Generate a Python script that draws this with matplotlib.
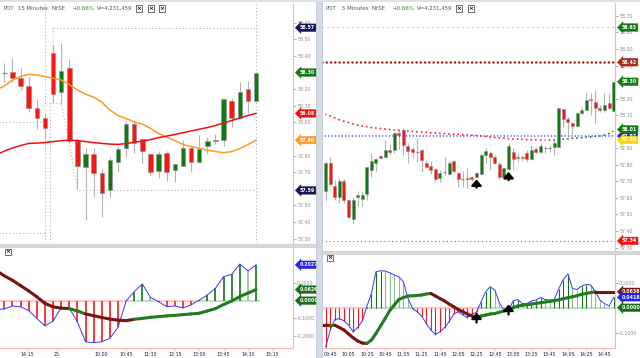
import numpy as np
import matplotlib
matplotlib.use("Agg")
import matplotlib.pyplot as plt
from matplotlib.patches import Rectangle

plt.rcParams['font.family'] = ['DejaVu Sans']

#---------------------------------------------------------------------------------------------
# Data, left chart (15 minutes), bars 0..31
l_open  = [58.30, 58.305, 58.27, 58.22, 58.084, 58.024, 58.42, 58.18, 58.325, 57.893, 57.733, 57.807, 57.697, 57.592,
           57.763, 57.843, 57.988, 57.898, 57.807, 57.707, 57.817, 57.713, 57.737, 57.843, 57.763, 57.857, 57.887,
           57.893, 58.128, 58.028, 58.199, 58.128]
l_high  = [58.355, 58.39, 58.325, 58.275, 58.138, 58.056, 58.466, 58.48, 58.38, 57.905, 57.845, 57.845, 57.717, 57.79,
           57.857, 58.008, 58.01, 57.905, 57.815, 57.825, 57.825, 57.72, 57.895, 57.85, 57.925, 57.91, 57.93,
           58.138, 58.145, 58.245, 58.25, 58.30]
l_low   = [58.245, 58.245, 58.195, 58.064, 57.958, 57.898, 58.116, 58.11, 57.875, 57.60, 57.41, 57.55, 57.43, 57.55,
           57.70, 57.793, 57.817, 57.757, 57.683, 57.663, 57.648, 57.642, 57.737, 57.703, 57.80, 57.807, 57.87,
           57.857, 57.973, 58.02, 58.054, 58.128]
l_close = [58.297, 58.27, 58.22, 58.086, 58.024, 57.964, 58.17, 58.31, 57.89, 57.734, 57.807, 57.693, 57.576, 57.773,
           57.837, 57.988, 57.873, 57.829, 57.703, 57.807, 57.703, 57.747, 57.843, 57.763, 57.837, 57.887, 57.895,
           58.138, 58.028, 58.184, 58.128, 58.30]

# moving averages and indicator, bars -1..31
l_ma_orange = [58.195, 58.219, 58.255, 58.276, 58.289, 58.285, 58.276, 58.265, 58.255, 58.228, 58.195, 58.170, 58.152,
               58.122, 58.074, 58.041, 58.023, 58.002, 57.990, 57.964, 57.933, 57.911, 57.890, 57.867, 57.854, 57.843,
               57.833, 57.824, 57.817, 57.824, 57.842, 57.866, 57.893]
l_ma_red = [57.803, 57.827, 57.845, 57.860, 57.873, 57.875, 57.878, 57.884, 57.889, 57.893, 57.890, 57.884, 57.878,
            57.873, 57.869, 57.867, 57.872, 57.880, 57.887, 57.896, 57.908, 57.917, 57.927, 57.937, 57.948, 57.958,
            57.969, 57.981, 57.996, 58.011, 58.026, 58.041, 58.054]
l_hist = [-0.05, -0.047, -0.030, -0.034, -0.056, -0.100, -0.143, -0.115, -0.040, -0.043, -0.119, -0.232, -0.237,
          -0.232, -0.213, -0.150, -0.002, 0.051, 0.094, 0.019, -0.006, -0.034, -0.030, -0.041, -0.024, 0.003, 0.032,
          0.070, 0.136, 0.149, 0.207, 0.168, 0.2027]
l_signal = [0.17, 0.14, 0.115, 0.085, 0.055, 0.022, -0.015, -0.035, -0.042, -0.045, -0.058, -0.075, -0.085, -0.095,
            -0.104, -0.110, -0.113, -0.105, -0.100, -0.094, -0.090, -0.086, -0.083, -0.079, -0.075, -0.071, -0.058,
            -0.045, -0.022, -0.002, 0.023, 0.043, 0.0626]
l_signal_up = [False] * 9 + [True, True] + [False] * 6 + [True] * 16   # segment ending at each bar

# dotted day levels
l_day_hi_x, l_day_hi_y = [6, 31], [58.57, 58.57]
l_day_lo_x, l_day_lo_y = [6, 6, 7, 8, 9, 31], [58.57, 58.116, 58.11, 57.875, 57.59, 57.59]
l_prev_levels = [58.00, 57.335]

l_price_ticks = [57.3, 57.4, 57.5, 57.7, 57.8, 58.0, 58.1, 58.2, 58.4, 58.5, 58.6]
l_ind_ticks = [-0.2, -0.1, 0.1]
l_times = ['14:15', '25', '10:00', '10:45', '11:30', '12:15', '13:00', '13:45', '14:30', '15:15']
l_time_pos = [2.8, 6.5, 12, 15, 18, 21, 24, 27, 30, 33]

#---------------------------------------------------------------------------------------------
# Data, right chart (5 minutes), bars 0..63
r_ohlc = [
    (57.643, 57.815, 57.587, 57.813), (57.813, 57.849, 57.672, 57.684), (57.672, 57.708, 57.587, 57.604),
    (57.604, 57.718, 57.567, 57.704), (57.704, 57.712, 57.567, 57.587), (57.587, 57.595, 57.477, 57.486),
    (57.471, 57.607, 57.45, 57.587), (57.607, 57.643, 57.551, 57.617), (57.595, 57.64, 57.55, 57.62),
    (57.624, 57.789, 57.587, 57.785), (57.769, 57.873, 57.724, 57.823), (57.813, 57.84, 57.758, 57.833),
    (57.853, 57.859, 57.833, 57.843), (57.849, 57.95, 57.849, 57.889), (57.889, 57.926, 57.859, 57.879),
    (57.889, 58.00, 57.873, 57.994), (57.994, 58.014, 57.894, 57.98), (58.01, 58.02, 57.859, 57.92),
    (57.914, 57.934, 57.809, 57.883), (57.893, 57.909, 57.839, 57.879), (57.875, 57.96, 57.819, 57.875),
    (57.889, 57.894, 57.758, 57.829), (57.813, 57.829, 57.779, 57.785), (57.793, 57.825, 57.744, 57.769),
    (57.773, 57.779, 57.698, 57.712), (57.722, 57.769, 57.698, 57.752), (57.756, 57.845, 57.738, 57.756),
    (57.744, 57.82, 57.74, 57.813), (57.823, 57.83, 57.749, 57.763), (57.752, 57.758, 57.664, 57.712),
    (57.713, 57.76, 57.665, 57.713), (57.722, 57.78, 57.66, 57.714), (57.724, 57.735, 57.70, 57.714),
    (57.728, 57.758, 57.724, 57.749), (57.744, 57.869, 57.738, 57.859), (57.859, 57.90, 57.809, 57.885),
    (57.869, 57.885, 57.769, 57.849), (57.849, 57.859, 57.805, 57.813), (57.805, 57.819, 57.712, 57.724),
    (57.724, 57.789, 57.718, 57.779), (57.773, 57.934, 57.769, 57.913), (57.879, 57.90, 57.769, 57.833),
    (57.849, 57.869, 57.819, 57.839), (57.839, 57.86, 57.82, 57.849), (57.873, 57.889, 57.819, 57.833),
    (57.833, 57.92, 57.829, 57.889), (57.894, 57.906, 57.869, 57.879), (57.879, 57.93, 57.869, 57.914),
    (57.90, 57.914, 57.869, 57.90), (57.903, 57.92, 57.875, 57.903), (57.906, 57.95, 57.859, 57.93),
    (57.906, 58.141, 57.906, 58.141), (58.135, 58.135, 58.03, 58.075), (58.075, 58.087, 57.986, 58.06),
    (58.05, 58.06, 57.986, 58.034), (58.034, 58.121, 58.03, 58.115), (58.111, 58.151, 58.10, 58.131),
    (58.131, 58.242, 58.131, 58.191), (58.20, 58.236, 58.10, 58.19), (58.181, 58.252, 58.051, 58.141),
    (58.141, 58.161, 58.121, 58.131), (58.131, 58.232, 58.121, 58.161), (58.171, 58.232, 58.135, 58.141),
    (58.127, 58.302, 58.127, 58.302)]
r_ma = [58.104, 58.095, 58.083, 58.072, 58.063, 58.056, 58.047, 58.040, 58.034, 58.030,
        58.025, 58.022, 58.019, 58.016, 58.013, 58.011, 58.008, 58.006, 58.004, 58.002,
        57.999, 57.998, 57.996, 57.993, 57.991, 57.990, 57.989, 57.987, 57.986, 57.984,
        57.982, 57.981, 57.979, 57.977, 57.974, 57.971, 57.968, 57.965, 57.963, 57.961,
        57.958, 57.956, 57.955, 57.954, 57.952, 57.951, 57.950, 57.949, 57.949, 57.949,
        57.950, 57.952, 57.955, 57.957, 57.960, 57.962, 57.964, 57.967, 57.969, 57.972,
        57.974, 57.980, 57.989, 58.004]
r_hist = [-0.156, -0.089, -0.047, -0.044, -0.052, -0.069, -0.096, -0.079, -0.053, 0.005,
          0.057, 0.144, 0.148, 0.147, 0.140, 0.131, 0.124, 0.104, 0.037, -0.003,
          -0.016, -0.033, -0.063, -0.089, -0.107, -0.096, -0.079, -0.056, -0.025, -0.016,
          -0.029, -0.039, -0.025, -0.018, 0.024, 0.064, 0.084, 0.071, 0.020, -0.009,
          -0.012, 0.028, 0.033, 0.017, 0.017, 0.027, 0.031, 0.041, 0.033, 0.031,
          0.033, 0.077, 0.113, 0.135, 0.077, 0.073, 0.087, 0.093, 0.091, 0.064,
          0.031, 0.017, 0.007, 0.042]
# bars -1..63
r_signal = [-0.069, -0.069, -0.072, -0.070, -0.079, -0.089, -0.105, -0.120, -0.133, -0.141, -0.143, -0.129, -0.103,
            -0.073, -0.043, -0.012, 0.011, 0.033, 0.041, 0.047, 0.048, 0.049, 0.051, 0.055, 0.057, 0.047, 0.037,
            0.027, 0.015, 0.004, -0.007, -0.016, -0.025, -0.033, -0.039, -0.033, -0.029, -0.025, -0.023, -0.018,
            -0.013, -0.007, 0.000, 0.007, 0.010, 0.012, 0.015, 0.017, 0.020, 0.023, 0.025, 0.028, 0.032, 0.036,
            0.040, 0.044, 0.048, 0.054, 0.057, 0.061, 0.0636, 0.0636, 0.0636, 0.0636, 0.0636]
r_arrow_bars = [33, 40]
r_levels = {'gray': 58.63, 'darkred': 58.42, 'blue': 57.974, 'red': 57.34}

r_price_ticks = [57.3, 57.4, 57.5, 57.6, 57.7, 57.8, 57.9, 58.1, 58.2, 58.4, 58.5, 58.6, 58.7]
r_ind_ticks = [-0.1, 0.1]
r_times = ['09:45', '10:05', '10:25', '10:45', '11:05', '11:25', '11:45', '12:05', '12:25', '12:45', '13:05',
           '13:25', '13:45', '14:05', '14:25', '14:45']
r_time_pos = list(range(1, 62, 4))

#---------------------------------------------------------------------------------------------
GREEN = '#137a13'
RED = '#ff1414'
SIG_UP = '#1f7d1f'
SIG_DN = '#7a1212'
W, H = 640, 358

fig = plt.figure(figsize=(6.4, 3.58), dpi=100)
fig.patch.set_facecolor('white')


def add_ax(x0, y0, x1, y1):
    ax = fig.add_axes([x0 / W, 1 - y1 / H, (x1 - x0) / W, (y1 - y0) / H])
    for s in ['top', 'left', 'bottom']:
        ax.spines[s].set_visible(False)
    ax.spines['right'].set_color('#ffb4b4')
    ax.spines['right'].set_linewidth(0.8)
    ax.yaxis.tick_right()
    ax.tick_params(axis='y', labelsize=3.4, colors='#8c8c8c', length=2, width=0.5, pad=1)
    ax.tick_params(axis='x', bottom=False, labelbottom=False)
    return ax


def candles(ax, o, h, l, c, width):
    for k in range(len(o)):
        ax.vlines(k, l[k], h[k], color='#b4b4b4', lw=0.8, zorder=2)
        if abs(c[k] - o[k]) < 0.004:
            ax.hlines(o[k], k - width / 2, k + width / 2, color='#8a8a8a', lw=0.9, zorder=3)
        else:
            ax.add_patch(Rectangle((k - width / 2, min(o[k], c[k])), width, abs(c[k] - o[k]),
                                   fc=GREEN if c[k] > o[k] else RED, ec='#8c8c8c', lw=0.4, zorder=3))


def histogram(ax, v, lw):
    x = np.arange(len(v))
    cols, zcols = [], []
    for k in range(len(v)):
        if v[k] < 0:
            cols.append(RED)
            zcols.append('#ffc4c4')
        else:
            cols.append('#157215' if k == 0 or v[k] >= v[k - 1] else '#8fbf8f')
            zcols.append('#c4e2c4')
    ax.hlines(np.zeros(len(v)), x - 0.5, x + 0.5, colors=zcols, lw=1.6, zorder=1)
    ax.vlines(x, 0, v, colors=cols, lw=lw, zorder=2)
    ax.plot(x, v, color='#3838ff', lw=0.7, zorder=3)


def signal(ax, x, v, up):
    for k in range(1, len(x)):
        ax.plot(x[k - 1:k + 1], v[k - 1:k + 1], color=SIG_UP if up[k] else SIG_DN, lw=2.2,
                solid_capstyle='round', zorder=4)


def tag(ax, y, text, fc, tc='white'):
    ax.text(1.022, y, text, transform=ax.get_yaxis_transform(), ha='left', va='center', fontsize=3.4,
            color=tc, fontweight='bold', bbox=dict(boxstyle='larrow,pad=0.28', fc=fc, ec=fc, lw=0.3),
            clip_on=False, zorder=6)


def header(x, items, boxes):
    for dx, txt, col in items:
        fig.text((x + dx) / W, 1 - 8.5 / H, txt, fontsize=3.9, color=col, va='center', ha='left')
    for bx in boxes:
        fig.text(bx / W, 1 - 8.5 / H, '×', fontsize=4.2, color='black', va='center', ha='center',
                 fontweight='bold', bbox=dict(boxstyle='square,pad=0.15', fc='white', ec='#303030', lw=0.5))


def xbox(x, y):
    fig.text(x / W, 1 - y / H, '×', fontsize=4.2, color='black', va='center', ha='center', fontweight='bold',
             bbox=dict(boxstyle='square,pad=0.15', fc='white', ec='#303030', lw=0.5))


dot = (0, (1, 2.5))

#---------------------------------------------------------------------------------------------
# Left price
axL = add_ax(0, 3, 293, 243)
axL.set_xlim(-0.53, 35.55)
axL.set_ylim(57.273, 58.719)
axL.set_yticks(l_price_ticks)
axL.yaxis.set_major_formatter(plt.FormatStrFormatter('%.2f'))
xl = np.arange(-1, 32)
axL.plot(xl, l_ma_orange, color='#ff9a22', lw=1.1, zorder=4)
axL.plot(xl, l_ma_red, color='#f01010', lw=1.1, zorder=4)
candles(axL, l_open, l_high, l_low, l_close, 0.55)
for lev in l_prev_levels:
    axL.hlines(lev, -1, 4.95, color='#a0a0a0', lw=0.7, linestyles=dot, zorder=1)
axL.plot(l_day_hi_x, l_day_hi_y, color='#a0a0a0', lw=0.7, ls=dot, zorder=1)
axL.plot(l_day_lo_x, l_day_lo_y, color='#a0a0a0', lw=0.7, ls=dot, zorder=1)
axL.axvline(4.95, color='#a0a0a0', lw=0.7, ls=dot, zorder=1)
axL.vlines(5.65, 57.273, 58.12, color='#a0a0a0', lw=0.7, linestyles=dot, zorder=1)
axL.axvline(31, color='#a0a0a0', lw=0.7, ls=dot, zorder=1)
tag(axL, l_day_hi_y[-1], '58.57', '#14145a')
tag(axL, l_close[-1], '58.30', GREEN)
tag(axL, l_ma_red[-1], '58.08', '#f01010')
tag(axL, l_ma_orange[-1], '57.90', '#ff9a22')
tag(axL, l_day_lo_y[-1], '57.59', '#14145a')

# Left indicator
axLi = add_ax(0, 247, 293, 347.7)
axLi.set_xlim(-0.53, 35.55)
axLi.set_ylim(-0.2655, 0.303)
axLi.spines['bottom'].set_visible(True)
axLi.spines['bottom'].set_color('#ffb4b4')
axLi.set_yticks(l_ind_ticks)
axLi.yaxis.set_major_formatter(plt.FormatStrFormatter('%.4f'))
histogram(axLi, l_hist[1:], 1.2)
axLi.plot(xl[:2], l_hist[:2], color='#3838ff', lw=0.7, zorder=3)
signal(axLi, xl, l_signal, [False] + l_signal_up)
axLi.set_xticks(l_time_pos)
axLi.set_xticklabels(l_times)
axLi.tick_params(axis='x', bottom=True, labelbottom=True, labelsize=3.4, labelcolor='#1c1c50',
                 color='#c0c0c0', length=1.5, width=0.5, pad=1.5)
tag(axLi, l_hist[-1], '0.2027', '#2020f0')
tag(axLi, l_signal[-1], '0.0626', '#1a6e1a')
tag(axLi, 0.0, '0.0000', '#1a6e1a')

#---------------------------------------------------------------------------------------------
# Right price
axR = add_ax(322, 3, 615, 250)
axR.set_xlim(-0.81, 63.3)
axR.set_ylim(57.285, 58.778)
axR.set_yticks(r_price_ticks)
axR.yaxis.set_major_formatter(plt.FormatStrFormatter('%.2f'))
ro = [b[0] for b in r_ohlc]
rh = [b[1] for b in r_ohlc]
rl = [b[2] for b in r_ohlc]
rc = [b[3] for b in r_ohlc]
candles(axR, ro, rh, rl, rc, 0.65)
axR.axhline(r_levels['gray'], color='#a8a8a8', lw=0.8, ls=(0, (1, 3.5)), zorder=1)
axR.axhline(r_levels['darkred'], color='#a81414', lw=1.8, ls=(0, (0.01, 1.7)), dash_capstyle='round', zorder=2)
axR.axhline(r_levels['blue'], color='#2424ff', lw=1.1, ls=(0, (0.01, 2.2)), dash_capstyle='round', zorder=2)
axR.axhline(r_levels['red'], color='#ff3c3c', lw=1.0, ls=(0, (0.01, 2.8)), dash_capstyle='round', zorder=2)
xr = np.arange(len(r_ma))
for k in range(1, len(r_ma)):
    axR.plot(xr[k - 1:k + 1], r_ma[k - 1:k + 1], color='#2a8a2a' if r_ma[k] > r_ma[k - 1] else '#ff3030',
             lw=1.2, ls=(0, (0.01, 2.6)), dash_capstyle='round', zorder=2)
for b in r_arrow_bars:
    tip = rl[b] - 0.012
    axR.annotate('', xy=(b, tip), xytext=(b, tip - 0.05),
                 arrowprops=dict(arrowstyle='-|>,head_width=0.3,head_length=0.35', color='black', lw=1.6,
                                 shrinkA=0, shrinkB=0), zorder=5)
tag(axR, r_levels['gray'], '58.63', GREEN)
tag(axR, r_levels['darkred'], '58.42', '#a82a1a')
tag(axR, rc[-1], '58.30', GREEN)
tag(axR, r_levels['blue'], '57.97', '#2020f0')
tag(axR, r_ma[-1] + 0.01, '58.01', GREEN)
tag(axR, 57.95, '57.95', '#ffd400')
tag(axR, r_levels['red'], '57.34', '#ee1414')

# Right indicator
axRi = add_ax(322, 254, 615, 348)
axRi.set_xlim(-0.81, 63.3)
axRi.set_ylim(-0.161, 0.215)
axRi.spines['bottom'].set_visible(True)
axRi.spines['bottom'].set_color('#ffb4b4')
axRi.set_yticks(r_ind_ticks)
axRi.yaxis.set_major_formatter(plt.FormatStrFormatter('%.4f'))
histogram(axRi, r_hist, 0.8)
xs = np.arange(-1, 64)
signal(axRi, xs, r_signal, [False] + [r_signal[k] > r_signal[k - 1] for k in range(1, len(r_signal))])
for b in r_arrow_bars:
    s = r_signal[b + 1]
    axRi.annotate('', xy=(b, s + 0.02), xytext=(b, s - 0.02),
                  arrowprops=dict(arrowstyle='-|>,head_width=0.3,head_length=0.35', color='black', lw=1.6,
                                  shrinkA=0, shrinkB=0), zorder=6)
axRi.set_xticks(r_time_pos)
axRi.set_xticklabels(r_times)
axRi.tick_params(axis='x', bottom=True, labelbottom=True, labelsize=3.4, labelcolor='#1c1c50',
                 color='#c0c0c0', length=1.5, width=0.5, pad=1.5)
tag(axRi, r_signal[-1], '0.0636', '#7a1212')
tag(axRi, r_hist[-1], '0.0418', '#2020f0')
tag(axRi, 0.0, '0.0000', '#1a6e1a')

#---------------------------------------------------------------------------------------------
# Frame, separators and headers
fig.patches.append(Rectangle((316 / W, 0), 6 / W, 1, transform=fig.transFigure, fc='#d3dae3', ec='#b8c2ce',
                             lw=0.5, zorder=0))
fig.patches.append(Rectangle((0, 1 - 246.5 / H), 316 / W, 2.5 / H, transform=fig.transFigure, fc='#d8d8d8',
                             ec='#c0c0c0', lw=0.4, zorder=0))
fig.patches.append(Rectangle((322 / W, 1 - 253.5 / H), 318 / W, 2.5 / H, transform=fig.transFigure,
                             fc='#d8d8d8', ec='#c0c0c0', lw=0.4, zorder=0))
fig.patches.append(Rectangle((0, 1 - 1.5 / H), 1, 1.5 / H, transform=fig.transFigure, fc='#dde2ea', lw=0,
                             zorder=0))

header(2, [(1, 'POT', '#555555'), (16, '15 Minutes', '#555555'), (50, 'NYSE', '#555555'),
           (70, '+0.66%', '#2a8a2a'), (95, 'V=4,231,459', '#555555')], [139, 151, 162])
header(324, [(2, 'POT', '#555555'), (18, '5 Minutes', '#555555'), (48, 'NYSE', '#555555'),
             (68, '+0.66%', '#2a8a2a'), (93, 'V=4,231,459', '#555555')], [459, 471])
xbox(8, 252)
xbox(330, 258)

fig.savefig('out.png', dpi=100)
